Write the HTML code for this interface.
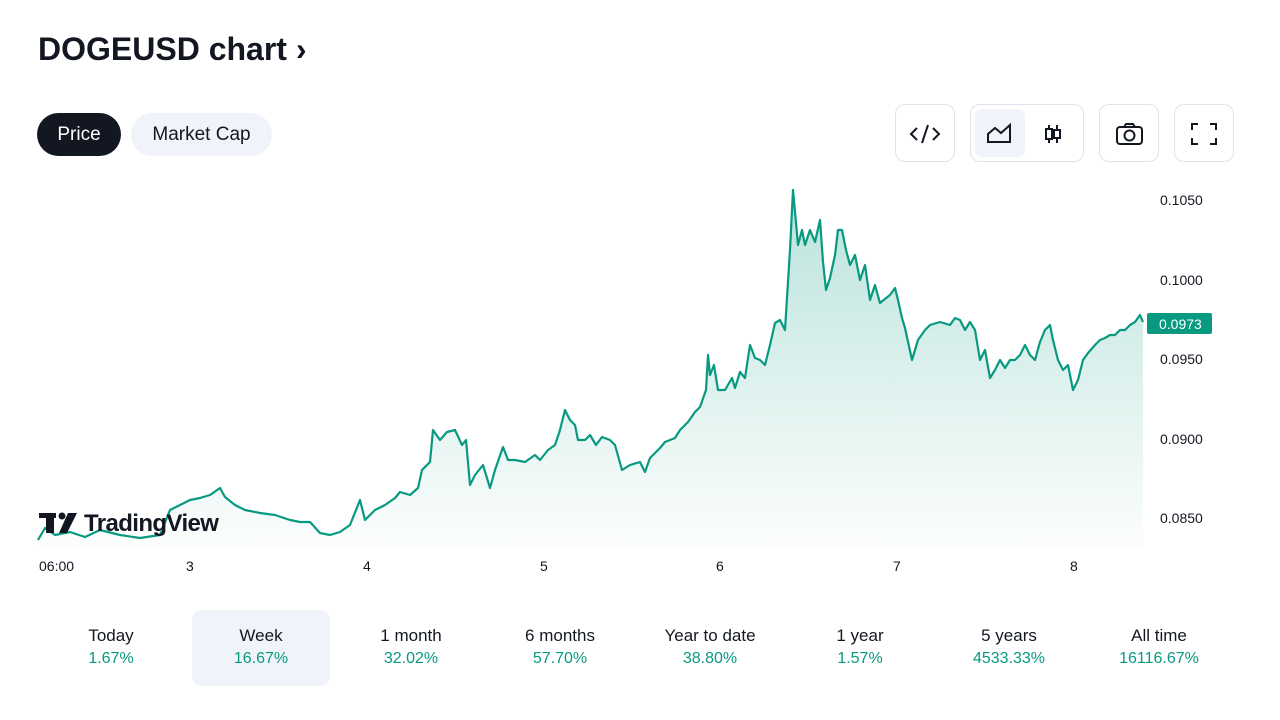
<!DOCTYPE html>
<html><head><meta charset="utf-8"><style>
body{margin:0;width:1280px;height:720px;background:#fff;font-family:"Liberation Sans",sans-serif;color:#131722;position:relative;overflow:hidden}
.t{position:absolute;left:38px;top:31px;font-size:32px;font-weight:bold;letter-spacing:0}
.pill{position:absolute;top:113px;height:43px;border-radius:22px;font-size:19px;line-height:43px;text-align:center}
.btn{position:absolute;top:104px;height:58px;border:1px solid #e0e3eb;border-radius:10px;box-sizing:border-box}
.ax{position:absolute;font-size:14px;color:#131722}
.per{position:absolute;top:610px;width:138px;height:76px;text-align:center;font-size:17px;border-radius:10px}
.per b{display:block;font-weight:normal;margin-top:16px}
.per i{display:block;font-style:normal;color:#089981;font-size:16px;margin-top:4px}
</style></head><body>
<div class="t">DOGEUSD chart ›</div>
<div class="pill" style="left:37px;width:84px;background:#131722;color:#fff">Price</div>
<div class="pill" style="left:131px;width:141px;background:#f0f3fa">Market Cap</div>
<div class="btn" style="left:895px;width:60px"><svg width="58" height="56"><path d="M21 23l-6 6 6 6M37 23l6 6-6 6M32 20l-6 18" stroke="#131722" stroke-width="2" fill="none"/></svg></div>
<div class="btn" style="left:970px;width:114px"><div style="position:absolute;left:4px;top:4px;width:50px;height:48px;background:#f0f3fa;border-radius:7px"></div><svg width="112" height="56" style="position:absolute;left:0;top:0"><path d="M17 37V29l7-6 6 5 9-8v17z" stroke="#131722" stroke-width="2" fill="none"/><path d="M78 20v18M86 20v18" stroke="#131722" stroke-width="2"/><rect x="75" y="24" width="6" height="10" fill="#fff" stroke="#131722" stroke-width="2"/><rect x="83" y="25" width="6" height="8" fill="#fff" stroke="#131722" stroke-width="2"/></svg></div>
<div class="btn" style="left:1099px;width:60px"><svg width="58" height="56"><rect x="17" y="22" width="25" height="17" rx="3" stroke="#131722" stroke-width="2" fill="none"/><circle cx="29.5" cy="30.5" r="5" stroke="#131722" stroke-width="2" fill="none"/><path d="M24 22l2-3h7l2 3" stroke="#131722" stroke-width="2" fill="none"/></svg></div>
<div class="btn" style="left:1174px;width:60px"><svg width="58" height="56"><path d="M17 25v-6h6M35 19h6v6M41 33v6h-6M23 39h-6v-6" stroke="#131722" stroke-width="2" fill="none"/></svg></div>
<svg width="1280" height="720" style="position:absolute;left:0;top:0">
<defs><linearGradient id="g" x1="0" y1="0" x2="0" y2="1"><stop offset="0" stop-color="#089981" stop-opacity="0.28"/><stop offset="1" stop-color="#089981" stop-opacity="0.01"/></linearGradient></defs>
<path d="M38,540 45,528 55,535 70,532 85,537 100,530 120,535 140,538 160,535 170,510 180,505 190,500 200,498 210,495 220,488 225,497 235,505 245,510 260,513 275,515 290,520 300,522 310,522 320,533 330,535 340,532 350,525 360,500 365,520 375,510 385,505 395,498 400,492 410,495 418,488 422,470 430,462 433,430 440,440 447,432 455,430 462,445 466,440 470,485 475,475 483,465 490,488 495,470 503,447 508,460 515,460 525,462 535,455 540,460 548,450 555,445 560,430 565,410 570,420 575,425 578,440 585,440 590,435 596,445 602,437 610,440 615,445 622,470 630,465 640,462 645,472 650,458 660,448 665,442 675,438 680,430 688,422 695,412 700,407 706,390 708,355 710,375 714,365 718,390 725,390 732,378 735,388 740,372 745,378 750,345 755,358 760,360 765,365 770,345 775,323 780,320 785,330 790,250 793,190 798,245 802,230 805,245 810,230 815,242 820,220 823,262 826,290 830,278 835,255 838,230 842,230 846,250 850,265 855,255 860,280 865,265 870,300 875,285 880,303 890,295 895,288 898,300 902,318 905,328 912,360 918,340 925,330 930,325 940,322 950,325 955,318 960,320 965,330 970,322 975,330 980,360 985,350 990,378 995,370 1000,360 1005,368 1010,360 1015,360 1020,355 1025,345 1030,355 1035,360 1040,342 1045,330 1050,325 1053,340 1058,360 1063,370 1068,365 1073,390 1078,380 1083,360 1088,353 1095,345 1100,340 1105,338 1110,335 1115,335 1120,330 1125,330 1130,325 1135,322 1140,315 1143,322" fill="none" stroke="#089981" stroke-width="2.2" stroke-linejoin="round"/>
<path d="M38,540 45,528 55,535 70,532 85,537 100,530 120,535 140,538 160,535 170,510 180,505 190,500 200,498 210,495 220,488 225,497 235,505 245,510 260,513 275,515 290,520 300,522 310,522 320,533 330,535 340,532 350,525 360,500 365,520 375,510 385,505 395,498 400,492 410,495 418,488 422,470 430,462 433,430 440,440 447,432 455,430 462,445 466,440 470,485 475,475 483,465 490,488 495,470 503,447 508,460 515,460 525,462 535,455 540,460 548,450 555,445 560,430 565,410 570,420 575,425 578,440 585,440 590,435 596,445 602,437 610,440 615,445 622,470 630,465 640,462 645,472 650,458 660,448 665,442 675,438 680,430 688,422 695,412 700,407 706,390 708,355 710,375 714,365 718,390 725,390 732,378 735,388 740,372 745,378 750,345 755,358 760,360 765,365 770,345 775,323 780,320 785,330 790,250 793,190 798,245 802,230 805,245 810,230 815,242 820,220 823,262 826,290 830,278 835,255 838,230 842,230 846,250 850,265 855,255 860,280 865,265 870,300 875,285 880,303 890,295 895,288 898,300 902,318 905,328 912,360 918,340 925,330 930,325 940,322 950,325 955,318 960,320 965,330 970,322 975,330 980,360 985,350 990,378 995,370 1000,360 1005,368 1010,360 1015,360 1020,355 1025,345 1030,355 1035,360 1040,342 1045,330 1050,325 1053,340 1058,360 1063,370 1068,365 1073,390 1078,380 1083,360 1088,353 1095,345 1100,340 1105,338 1110,335 1115,335 1120,330 1125,330 1130,325 1135,322 1140,315 1143,322 1143,548 38,548Z" fill="url(#g)"/>
<rect x="1147" y="313" width="65" height="21" rx="2" fill="#089981"/>
<text x="1159" y="329" font-size="14" fill="#fff" font-family="Liberation Sans">0.0973</text>
<g font-family="Liberation Sans" font-weight="bold" fill="#131722"><rect x="39" y="513" width="17" height="5"/><rect x="46" y="513" width="8" height="20"/><circle cx="62" cy="516" r="3.5"/><path d="M68 513h9l-10 20h-8z"/><text x="84" y="531" font-size="24" letter-spacing="-0.6">TradingView</text></g>
</svg>
<div class="ax" style="left:1160px;top:192px">0.1050</div>
<div class="ax" style="left:1160px;top:272px">0.1000</div>
<div class="ax" style="left:1160px;top:351px">0.0950</div>
<div class="ax" style="left:1160px;top:431px">0.0900</div>
<div class="ax" style="left:1160px;top:510px">0.0850</div>
<div class="ax" style="left:39px;top:558px">06:00</div>
<div class="ax" style="left:186px;top:558px">3</div>
<div class="ax" style="left:363px;top:558px">4</div>
<div class="ax" style="left:540px;top:558px">5</div>
<div class="ax" style="left:716px;top:558px">6</div>
<div class="ax" style="left:893px;top:558px">7</div>
<div class="ax" style="left:1070px;top:558px">8</div>
<div class="per" style="left:42px"><b>Today</b><i>1.67%</i></div>
<div class="per" style="left:192px;background:#f0f3fa"><b>Week</b><i>16.67%</i></div>
<div class="per" style="left:342px"><b>1 month</b><i>32.02%</i></div>
<div class="per" style="left:491px"><b>6 months</b><i>57.70%</i></div>
<div class="per" style="left:641px"><b>Year to date</b><i>38.80%</i></div>
<div class="per" style="left:791px"><b>1 year</b><i>1.57%</i></div>
<div class="per" style="left:940px"><b>5 years</b><i>4533.33%</i></div>
<div class="per" style="left:1090px"><b>All time</b><i>16116.67%</i></div>
</body></html>
